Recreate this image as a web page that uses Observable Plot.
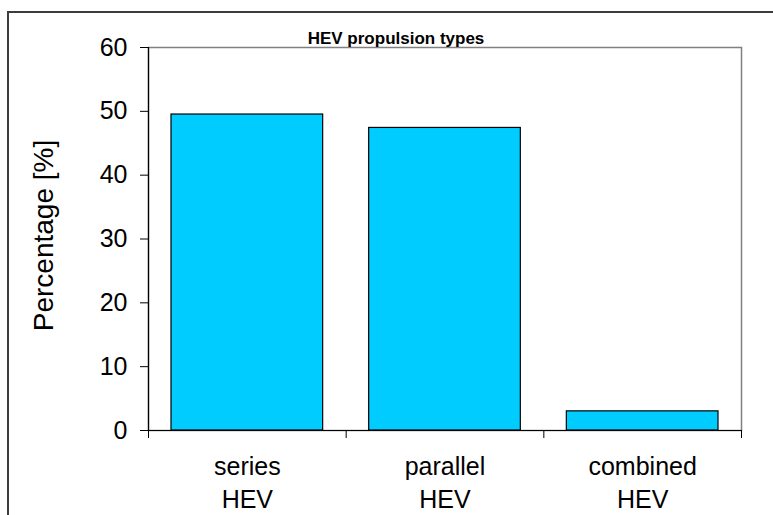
<!DOCTYPE html>
<html>
<head>
<meta charset="utf-8">
<script src="https://cdn.jsdelivr.net/npm/d3@7"></script>
<script src="https://cdn.jsdelivr.net/npm/@observablehq/plot@0.6"></script>
<style>
  html, body { margin: 0; padding: 0; background: #fff; overflow: hidden; }
  #wrap { position: relative; width: 773px; height: 515px; }
  #border {
    position: absolute; left: 7px; top: 11px; width: 820px; height: 600px;
    border: 2px solid #3c3c3c; pointer-events: none;
  }
</style>
</head>
<body>
<div id="wrap"><div id="border"></div></div>
<script>
// HEV propulsion types: share of vehicles per drivetrain layout
const categories = ["series HEV", "parallel HEV", "combined HEV"];
const shares = [49.5, 47.4, 3.0];
const yTicks = [0, 10, 20, 30, 40, 50, 60];
const title = "HEV propulsion types";
const yLabel = "Percentage [%]";

// each category occupies one unit slot [i, i+1] on a linear x scale,
// so the axis ticks fall on the slot boundaries
const rows = categories.map((c, i) => ({category: c, value: shares[i], i}));
const bounds = d3.range(categories.length + 1);

const font = "'Liberation Sans', Arial, Helvetica, sans-serif";

const chart = Plot.plot({
  width: 773,
  height: 515,
  marginLeft: 148,
  marginRight: 32,
  marginTop: 47,
  marginBottom: 85,
  style: {fontFamily: font, fontSize: "25px", color: "#000", background: "transparent"},
  x: {domain: [0, categories.length]},
  y: {domain: [0, 60]},
  marks: [
    Plot.frame({stroke: "#808080", strokeWidth: 1.5}),
    Plot.rectY(rows, {
      x1: "i",
      x2: d => d.i + 1,
      y: "value",
      insetLeft: 23,
      insetRight: 23,
      fill: "#00CCFF",
      stroke: "#000",
      strokeWidth: 1.2
    }),
    Plot.ruleX([0], {stroke: "#000", strokeWidth: 1.2}),
    Plot.ruleY([0], {stroke: "#000", strokeWidth: 1.2}),
    Plot.axisY({ticks: yTicks, tickSize: 8, tickPadding: 13, fontSize: 25, label: null}),
    Plot.axisX({ticks: bounds, tickSize: 8, tickFormat: () => "", label: null}),
    // two-line category labels centred in each slot
    Plot.text(rows, {
      x: d => d.i + 0.5,
      frameAnchor: "bottom",
      text: d => d.category.replace(" ", "\n"),
      lineAnchor: "top",
      lineHeight: 1.32,
      dy: 21,
      fontSize: 25,
      fill: "#000"
    }),
    Plot.text([yLabel], {
      frameAnchor: "left",
      textAnchor: "middle",
      rotate: -90,
      dx: -104,
      dy: -3.5,
      lineAnchor: "middle",
      fontSize: 28,
      fill: "#000"
    }),
    Plot.text([title], {
      frameAnchor: "top",
      dx: -49,
      dy: -9,
      lineAnchor: "middle",
      fontSize: 17,
      fontWeight: "bold",
      fill: "#000"
    })
  ]
});

document.getElementById("wrap").prepend(chart);
</script>
</body>
</html>
